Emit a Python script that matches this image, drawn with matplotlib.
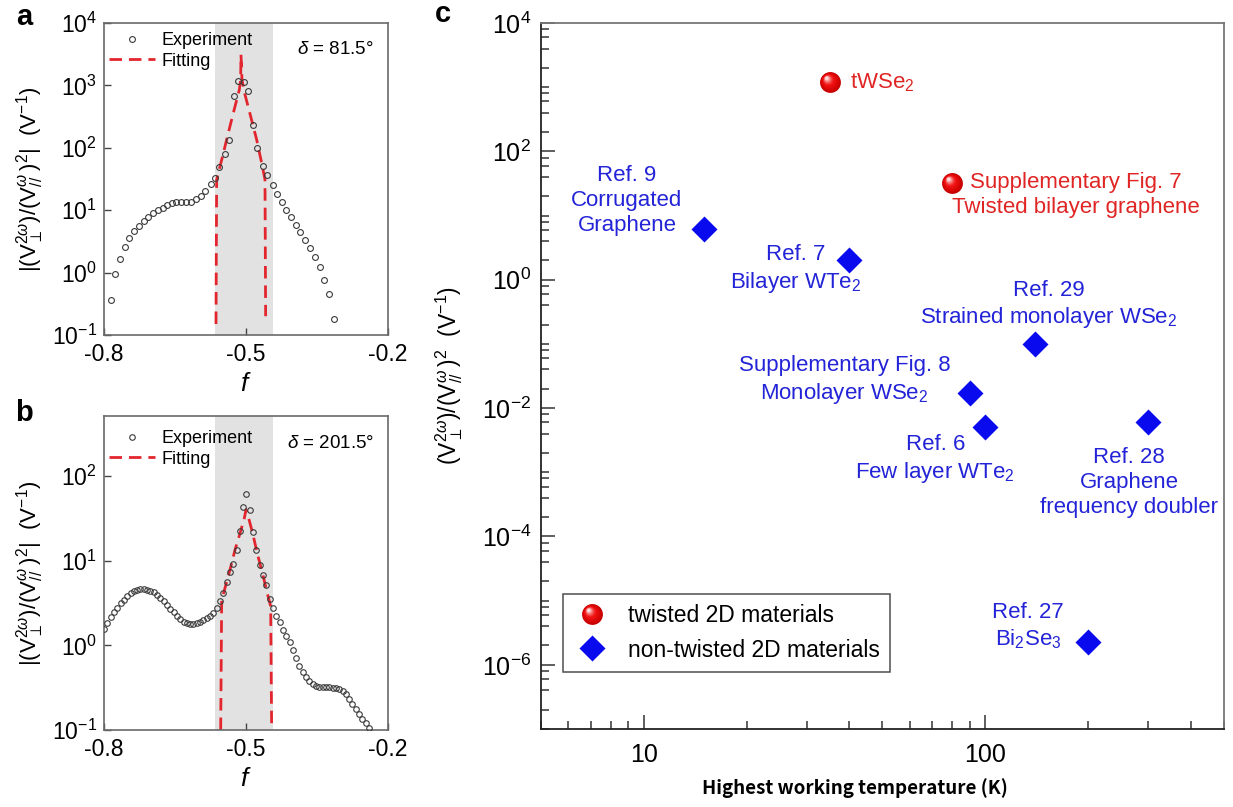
import numpy as np
import matplotlib
matplotlib.use("Agg")
import matplotlib.pyplot as plt
import matplotlib.colors as mcolors
from matplotlib.path import Path
from matplotlib.markers import MarkerStyle
from matplotlib.lines import Line2D
from matplotlib.legend_handler import HandlerTuple
from matplotlib.ticker import LogLocator, FixedLocator, NullLocator, NullFormatter

plt.rcParams['font.family'] = ['Liberation Sans', 'DejaVu Sans']
plt.rcParams['mathtext.fontset'] = 'custom'
plt.rcParams['mathtext.rm'] = 'Liberation Sans'
plt.rcParams['mathtext.it'] = 'Liberation Sans:italic'
plt.rcParams['mathtext.bf'] = 'Liberation Sans:bold'
plt.rcParams['axes.unicode_minus'] = False

# ---------------- panel a: delta = 81.5 deg ----------------
f_a = [-0.786, -0.776, -0.766, -0.756, -0.747, -0.737, -0.726, -0.716, -0.706,
       -0.696, -0.686, -0.676, -0.666, -0.656, -0.647, -0.637, -0.627, -0.617,
       -0.606, -0.596, -0.586, -0.575, -0.566, -0.556, -0.544, -0.535, -0.525,
       -0.516, -0.504, -0.495, -0.485, -0.476, -0.465, -0.455, -0.443, -0.435,
       -0.425, -0.415, -0.405, -0.394, -0.385, -0.375, -0.365, -0.354, -0.344,
       -0.335, -0.325, -0.315]
ratio_a = [0.36, 0.96, 1.67, 2.57, 3.53, 4.57, 5.58, 6.62, 7.67,
           8.9, 9.93, 10.8, 11.9, 12.9, 13.5, 13.7, 13.7, 13.7,
           15.1, 17.1, 20.0, 26.0, 33.2, 49.0, 80.0, 135.0, 667.0,
           1190.0, 1145.0, 822.0, 234.0, 99.0, 52.0, 36.0, 25.0, 17.9,
           13.5, 9.9, 7.67, 5.7, 4.4, 3.37, 2.44, 1.75, 1.21,
           0.77, 0.45, 0.18]
fit_f_a = [-0.5634, -0.562, -0.5514, -0.5374, -0.5232, -0.5141, -0.5113, -0.5106,
           -0.5085, -0.5021, -0.4901, -0.4775, -0.4669, -0.4599, -0.4585]
fit_a = [0.15, 31, 64, 173, 461, 850, 1230, 3100,
         1230, 710, 318, 135, 57, 31, 0.2]

# ---------------- panel b: delta = 201.5 deg ----------------
ratio_b = [1.55, 1.82, 2.14, 2.45, 2.79, 3.16, 3.47, 3.85, 4.12, 4.37,
           4.52, 4.59, 4.59, 4.53, 4.41, 4.22, 3.94, 3.63, 3.35, 3.02,
           2.72, 2.45, 2.21, 2.02, 1.91, 1.83, 1.79, 1.79, 1.84, 1.91,
           2.00, 2.09, 2.21, 2.43, 2.75, 3.31, 4.17, 5.62, 7.24, 9.12,
           13.5, 22.4, 42.7, 61.7, 39.8, 21.9, 13.2, 8.91, 6.76, 5.13,
           3.55, 2.75, 2.24, 1.86, 1.51, 1.29, 1.10, 0.891, 0.708, 0.575,
           0.490, 0.417, 0.376, 0.347, 0.333, 0.326, 0.321, 0.320, 0.319, 0.315,
           0.310, 0.302, 0.285, 0.266, 0.234, 0.204, 0.176, 0.155, 0.135, 0.120,
           0.106]
f_b = np.linspace(-0.800, -0.240, len(ratio_b))   # uniform sweep of f
fit_f_b = [-0.5535, -0.5514, -0.5437, -0.5338, -0.5232, -0.5127, -0.5036, -0.5000,
           -0.4952, -0.4859, -0.4762, -0.4635, -0.4550, -0.4479, -0.4458]
fit_b = [0.1, 3.4, 4.9, 7.8, 13.4, 21, 31.6, 40,
         33, 21, 12.2, 6.5, 4.1, 2.9, 0.1]

shade_range = (-0.566, -0.442)

# ---------------- panel c: comparison ----------------
twisted_T = [35, 80]
twisted_R = [1.2e3, 32]
twisted_labels = ['tWSe$_2$', 'Supplementary Fig. 7\nTwisted bilayer graphene']

plain_T = [15, 40, 140, 90, 100, 300, 200]
plain_R = [6.2, 2.0, 0.10, 0.017, 0.005, 0.006, 2.3e-6]
plain_labels = ['Ref. 9\nCorrugated\nGraphene',
                'Ref. 7\nBilayer WTe$_2$',
                'Ref. 29\nStrained monolayer WSe$_2$',
                'Supplementary Fig. 8\nMonolayer WSe$_2$',
                'Ref. 6\nFew layer WTe$_2$',
                'Ref. 28\nGraphene\nfrequency doubler',
                'Ref. 27\nBi$_2$Se$_3$']

# label placement (offset in pixels from each marker, alignment)
twisted_offsets = [((20, -1), 'left'), ((124, -12), 'center')]
plain_offsets = [(-77, 28), (-54, -9), (14, 39), (-125, 13), (-50, -32), (-19, -60), (-60, 15)]

W, H = 1233, 807
fig = plt.figure(figsize=(W / 100, H / 100), dpi=100)


def axes_px(left, top, right, bottom):
    return fig.add_axes([left / W, 1 - bottom / H, (right - left) / W, (bottom - top) / H])


ylab_ab = r'$|(\mathrm{V}_{\perp}^{2\omega})/(\mathrm{V}_{//}^{\omega}\,)^{2}|$  (V$^{-1}$)'
ylab_c = r'$(\mathrm{V}_{\perp}^{2\omega})/(\mathrm{V}_{//}^{\omega}\,)^{2}$  (V$^{-1}$)'
gray_spine = '#6a6a6a'
red_fit = '#e3262e'


def style_ab(ax, ylim, decades):
    ax.set_yscale('log')
    ax.set_xlim(-0.8, -0.2)
    ax.set_ylim(*ylim)
    ax.set_xticks([-0.8, -0.5, -0.2])
    ax.set_xticklabels(['-0.8', '-0.5', '-0.2'])
    ax.yaxis.set_major_locator(FixedLocator([10.0 ** d for d in decades]))
    ax.set_yticklabels([r'$10^{%d}$' % d for d in decades])
    ax.yaxis.set_minor_locator(NullLocator())
    ax.tick_params(direction='in', length=5, width=1, labelsize=16.5, color='#444')
    ax.tick_params(axis='x', pad=6)
    ax.tick_params(axis='y', pad=5)
    for s in ax.spines.values():
        s.set_color(gray_spine)
        s.set_linewidth(1.2)
    ax.set_xlabel('$f$', fontsize=19, labelpad=4)
    ax.set_ylabel(ylab_ab, fontsize=16, labelpad=4)
    ax.axvspan(*shade_range, color='#e2e2e2', zorder=0, lw=0)


def draw_ab(ax, f, r, ff, fr, ms, legend_top):
    ax.plot(f, r, ls='none', marker='o', ms=ms, mfc='none', mec='#3a3a3a', mew=0.8,
            label='Experiment', zorder=3)
    ax.plot(ff, fr, ls=(0, (4.5, 2.5)), color=red_fit, lw=2.0, label='Fitting', zorder=2)
    leg = ax.legend(loc='upper left', bbox_to_anchor=(0.0, legend_top), frameon=False,
                    fontsize=13, handlelength=2.6, handletextpad=0.35, borderaxespad=0.15,
                    labelspacing=0.2, borderpad=0.1)
    return leg


# panel a
ax_a = axes_px(104, 23, 388, 335)
style_ab(ax_a, (0.1, 1e4), [-1, 0, 1, 2, 3, 4])
draw_ab(ax_a, f_a, ratio_a, fit_f_a, fit_a, 4.2, 0.985)
ax_a.text(0.95, 0.915, r'$\delta$ = 81.5°', transform=ax_a.transAxes, ha='right',
          va='center', fontsize=13.5)

# panel b
ax_b = axes_px(104, 416, 388, 730)
style_ab(ax_b, (0.1, 510), [-1, 0, 1, 2])
draw_ab(ax_b, f_b, ratio_b, fit_f_b, fit_b, 4.0, 0.97)
ax_b.text(0.95, 0.912, r'$\delta$ = 201.5°', transform=ax_b.transAxes, ha='right',
          va='center', fontsize=13.5)

# panel c
ax_c = axes_px(541, 23, 1224, 729)
ax_c.set_xscale('log')
ax_c.set_yscale('log')
ax_c.set_xlim(5, 500)
ax_c.set_ylim(1e-7, 1e4)
ax_c.xaxis.set_major_locator(FixedLocator([10, 100]))
ax_c.set_xticklabels(['10', '100'])
ax_c.xaxis.set_minor_locator(LogLocator(base=10, subs=np.arange(2, 10), numticks=60))
ax_c.xaxis.set_minor_formatter(NullFormatter())
ydec = [-6, -4, -2, 0, 2, 4]
ax_c.yaxis.set_major_locator(FixedLocator([10.0 ** d for d in ydec]))
ax_c.set_yticklabels([r'$10^{%d}$' % d for d in ydec])
ymin_ticks = [m * 10.0 ** d for d in range(-7, 4) for m in (1, 2, 4, 6, 8)
              if not (m == 1 and d % 2 == 0)]
ax_c.yaxis.set_minor_locator(FixedLocator(ymin_ticks))
ax_c.yaxis.set_minor_formatter(NullFormatter())
ax_c.tick_params(which='major', direction='in', length=10, width=1.1, labelsize=18,
                 color='#333')
ax_c.tick_params(axis='x', which='major', pad=10)
ax_c.tick_params(axis='y', which='major', pad=7)
ax_c.tick_params(which='minor', direction='in', length=6, width=1.1, color='#333')
for side in ('left', 'bottom'):
    ax_c.spines[side].set_color('#222')
    ax_c.spines[side].set_linewidth(1.3)
for side in ('top', 'right'):
    ax_c.spines[side].set_color('#777')
    ax_c.spines[side].set_linewidth(1.3)
ax_c.set_xlabel('Highest working temperature (K)', fontsize=13.5, fontweight='bold',
                family=['Noto Sans CJK JP', 'DejaVu Sans'])
ax_c.xaxis.set_label_coords((855 - 541) / 683, -(788 - 729) / 706)
ax_c.xaxis.label.set_va('center')
ax_c.set_ylabel(ylab_c, fontsize=16.5, labelpad=12)


def sphere_layers(n=10):
    """Filled-circle markers stacked into a shaded red sphere."""
    anchor = Path([(1.0, 0.0), (1.0, 0.0)], [Path.MOVETO, Path.LINETO])
    dark = np.array(mcolors.to_rgb('#c80000'))
    mid = np.array(mcolors.to_rgb('#f01010'))
    light = np.array([1.0, 0.88, 0.88])
    out = []
    for k in range(n):
        t = k / (n - 1)
        r = 1.0 - 0.84 * t
        cx, cy = -0.36 * t, 0.40 * t
        path = Path.make_compound_path(Path.circle((cx, cy), r), anchor)
        if t < 0.5:
            col = dark * (1 - 2 * t) + mid * (2 * t)
        else:
            s = (t - 0.5) / 0.5
            col = mid * (1 - s ** 1.4) + light * s ** 1.4
        out.append((MarkerStyle(path), tuple(col)))
    return out


layers = sphere_layers()
sphere_handles = []
for mk, col in layers:
    ax_c.plot(twisted_T, twisted_R, ls='none', marker=mk, ms=15, mfc=col, mec='none',
              mew=0, zorder=4)
    sphere_handles.append(Line2D([], [], ls='none', marker=mk, ms=15, mfc=col,
                                 mec='none', mew=0))

diamond_color = '#0a0aee'
ax_c.plot(plain_T, plain_R, ls='none', marker='D', ms=13, mfc=diamond_color, mec='none',
          zorder=4)
diamond_handle = Line2D([], [], ls='none', marker='D', ms=13, mfc=diamond_color, mec='none')

red_text = '#e02525'
blue_text = '#2323d8'
for T, R, lab, (off, ha) in zip(twisted_T, twisted_R, twisted_labels, twisted_offsets):
    ax_c.annotate(lab, (T, R), xytext=off, textcoords='offset pixels', ha=ha,
                  va='center', fontsize=16, color=red_text, linespacing=1.25,
                  multialignment='center')
for T, R, lab, off in zip(plain_T, plain_R, plain_labels, plain_offsets):
    ax_c.annotate(lab, (T, R), xytext=off, textcoords='offset pixels', ha='center',
                  va='center', fontsize=16, color=blue_text, linespacing=1.25,
                  multialignment='center')

leg = ax_c.legend([tuple(sphere_handles), diamond_handle],
                  ['twisted 2D materials', 'non-twisted 2D materials'],
                  handler_map={tuple: HandlerTuple(ndivide=1, pad=0)},
                  loc='lower left', bbox_to_anchor=(0.032, 0.081), borderaxespad=0,
                  fontsize=16.5, frameon=True, fancybox=False, edgecolor='#222',
                  handlelength=1.6, handletextpad=0.8, labelspacing=0.5,
                  borderpad=0.45)
leg.get_frame().set_linewidth(1.1)

# panel letters
for letter, (x, y) in {'a': (16, 25), 'b': (15, 421), 'c': (435, 22)}.items():
    fig.text(x / W, 1 - y / H, letter, fontsize=21, fontweight='bold', va='baseline',
             ha='left')

fig.savefig('out.png', dpi=100)
